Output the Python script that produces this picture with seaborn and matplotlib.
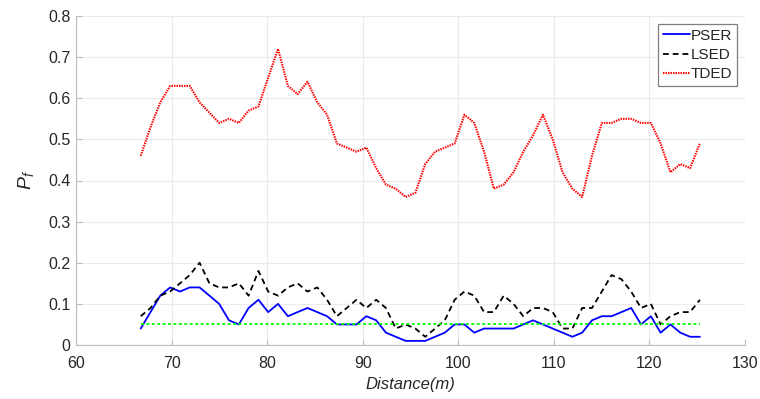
import matplotlib
matplotlib.use("Agg")
import matplotlib.pyplot as plt
import seaborn as sns
import numpy as np
from matplotlib.ticker import FuncFormatter

distance = [66.77, 67.80, 68.82, 69.85, 70.88, 71.90, 72.93, 73.96, 74.98, 76.01,
            77.04, 78.06, 79.09, 80.11, 81.14, 82.17, 83.19, 84.22, 85.25, 86.27,
            87.30, 88.33, 89.35, 90.38, 91.41, 92.43, 93.46, 94.49, 95.51, 96.54,
            97.57, 98.59, 99.62, 100.64, 101.67, 102.70, 103.72, 104.75, 105.78, 106.80,
            107.83, 108.86, 109.88, 110.91, 111.94, 112.96, 113.99, 115.02, 116.04, 117.07,
            118.09, 119.12, 120.15, 121.17, 122.20, 123.23, 124.25, 125.28]

pser = [0.04, 0.08, 0.12, 0.14, 0.13, 0.14, 0.14, 0.12, 0.10, 0.06,
        0.05, 0.09, 0.11, 0.08, 0.10, 0.07, 0.08, 0.09, 0.08, 0.07,
        0.05, 0.05, 0.05, 0.07, 0.06, 0.03, 0.02, 0.01, 0.01, 0.01,
        0.02, 0.03, 0.05, 0.05, 0.03, 0.04, 0.04, 0.04, 0.04, 0.05,
        0.06, 0.05, 0.04, 0.03, 0.02, 0.03, 0.06, 0.07, 0.07, 0.08,
        0.09, 0.05, 0.07, 0.03, 0.05, 0.03, 0.02, 0.02]

lsed = [0.07, 0.09, 0.12, 0.13, 0.15, 0.17, 0.20, 0.15, 0.14, 0.14,
        0.15, 0.12, 0.18, 0.13, 0.12, 0.14, 0.15, 0.13, 0.14, 0.11,
        0.07, 0.09, 0.11, 0.09, 0.11, 0.09, 0.04, 0.05, 0.04, 0.02,
        0.04, 0.06, 0.11, 0.13, 0.12, 0.08, 0.08, 0.12, 0.10, 0.07,
        0.09, 0.09, 0.08, 0.04, 0.04, 0.09, 0.09, 0.13, 0.17, 0.16,
        0.13, 0.09, 0.10, 0.05, 0.07, 0.08, 0.08, 0.11]

tded = [0.46, 0.53, 0.59, 0.63, 0.63, 0.63, 0.59, 0.565, 0.54, 0.55,
        0.54, 0.57, 0.58, 0.65, 0.72, 0.63, 0.61, 0.64, 0.59, 0.56,
        0.49, 0.48, 0.47, 0.48, 0.43, 0.39, 0.38, 0.36, 0.37, 0.44,
        0.47, 0.48, 0.49, 0.56, 0.54, 0.47, 0.38, 0.39, 0.42, 0.47,
        0.51, 0.56, 0.50, 0.42, 0.38, 0.36, 0.46, 0.54, 0.54, 0.55,
        0.55, 0.54, 0.54, 0.49, 0.42, 0.44, 0.43, 0.49]

threshold = [0.05] * len(distance)

x_ticks = [60, 70, 80, 90, 100, 110, 120, 130]
y_ticks = [0, 0.1, 0.2, 0.3, 0.4, 0.5, 0.6, 0.7, 0.8]

sns.set_theme(style="whitegrid")
plt.rcParams['font.family'] = ['Liberation Sans', 'DejaVu Sans']
plt.rcParams['mathtext.fontset'] = 'custom'
plt.rcParams['mathtext.it'] = 'Liberation Sans:italic'
plt.rcParams['mathtext.rm'] = 'Liberation Sans'

fig = plt.figure(figsize=(7.6, 3.99), dpi=100)
ax = fig.add_axes([76/760, 1-345/399, (745-76)/760, (345-16)/399])
ax.set_facecolor('white')

sns.lineplot(x=distance, y=pser, ax=ax, color=(0, 0, 1), lw=1.3, label='PSER')
sns.lineplot(x=distance, y=lsed, ax=ax, color='black', lw=1.3, label='LSED')
sns.lineplot(x=distance, y=tded, ax=ax, color=(1, 0, 0), lw=1.5, label='TDED')
sns.lineplot(x=distance, y=threshold, ax=ax, color=(0, 1, 0), lw=1.3)

lines = ax.get_lines()
lines[1].set_dashes((3.2, 2.2))
lines[2].set_dashes((0.7, 0.5))
lines[3].set_dashes((1.6, 1.4))

ax.set_xlim(60, 130)
ax.set_ylim(0, 0.8)
ax.set_xticks(x_ticks)
ax.set_yticks(y_ticks)
ax.yaxis.set_major_formatter(FuncFormatter(lambda v, p: '0' if v == 0 else f'{v:.1f}'))
ax.grid(True, color='#ebebeb', lw=0.8)
for s in ['top', 'right']:
    ax.spines[s].set_visible(False)
for s in ['left', 'bottom']:
    ax.spines[s].set_visible(True)
    ax.spines[s].set_color('#bdbdbd')
    ax.spines[s].set_linewidth(0.8)
ax.tick_params(axis='both', direction='in', length=4, width=0.8, color='#bdbdbd',
               labelsize=11.5, labelcolor='#262626', left=True, bottom=True)
ax.tick_params(axis='x', pad=8)
ax.tick_params(axis='y', pad=4)

ax.set_xlabel('Distance(m)', fontsize=12, style='italic', color='#262626', labelpad=4)
ax.set_ylabel(r'$P_f$', fontsize=14, color='#262626', labelpad=9)

leg = ax.legend(loc='upper right', bbox_to_anchor=(1-8/669, 1-8/329), fontsize=11,
                frameon=True, fancybox=False, edgecolor='#7f7f7f', framealpha=1,
                handlelength=1.8, handletextpad=0.05, borderpad=0.3, labelspacing=0.35,
                borderaxespad=0)
leg.get_frame().set_linewidth(0.9)

fig.savefig('out.png', dpi=100)
